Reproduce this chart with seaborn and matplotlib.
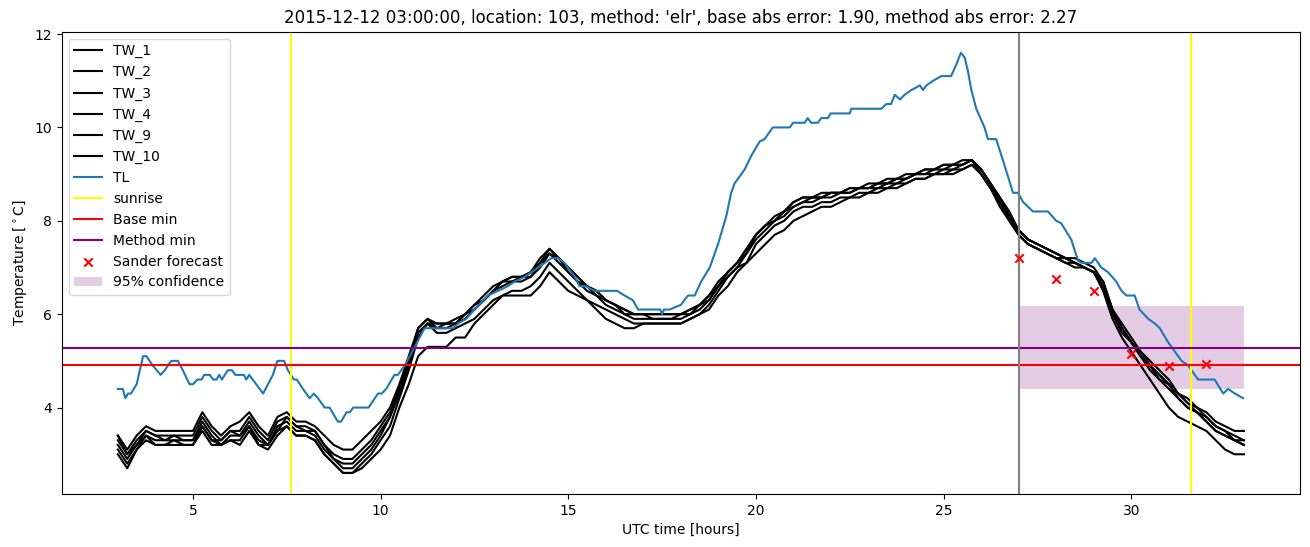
import numpy as np
import pandas as pd
import seaborn as sns
import matplotlib
matplotlib.use("Agg")
import matplotlib.pyplot as plt

# --- Air temperature (TL), irregular readings ---
tl_hours = [
    3.0, 3.13, 3.2, 3.27, 3.35, 3.5, 3.67, 3.76, 3.93, 4.14, 4.25, 4.42, 4.6, 4.73, 4.91, 5.0,
    5.12, 5.23, 5.3, 5.45, 5.54, 5.63, 5.7, 5.77, 5.93, 6.04, 6.13, 6.36, 6.42, 6.5, 6.87, 7.0,
    7.13, 7.25, 7.43, 7.53, 7.69, 7.77, 7.93, 8.11, 8.22, 8.33, 8.51, 8.64, 8.86, 8.95, 9.09,
    9.18, 9.27, 9.68, 9.93, 10.03, 10.15, 10.37, 10.46, 10.64, 10.91, 11.17, 11.93, 12.06,
    12.28, 12.5, 12.86, 13.13, 13.39, 13.57, 13.84, 14.02, 14.37, 14.55, 14.73, 14.9, 15.17,
    15.3, 15.48, 15.7, 16.3, 16.5, 16.72, 16.86, 17.45, 17.5, 17.55, 17.7, 18.0, 18.19, 18.37,
    18.54, 18.77, 18.99, 19.21, 19.34, 19.43, 19.7, 19.88, 20.1, 20.23, 20.45, 20.9, 20.99,
    21.3, 21.38, 21.47, 21.65, 21.74, 21.92, 21.99, 22.5, 22.54, 23.34, 23.47, 23.6, 23.7,
    23.84, 23.96, 24.14, 24.37, 24.45, 24.54, 24.72, 24.94, 25.2, 25.34, 25.46, 25.56, 25.65,
    25.74, 25.87, 26.09, 26.18, 26.4, 26.58, 26.85, 26.98, 27.12, 27.38, 27.78, 28.0, 28.13,
    28.4, 28.58, 28.67, 28.94, 29.03, 29.2, 29.38, 29.6, 29.74, 29.87, 30.09, 30.22, 30.45,
    30.63, 30.76, 30.98, 31.16, 31.34, 31.52, 31.78, 32.22, 32.45, 32.58, 32.76, 32.98,
]
tl_values = [
    4.4, 4.4, 4.2, 4.3, 4.3, 4.5, 5.1, 5.1, 4.9, 4.7, 4.8, 5.0, 5.0, 4.8, 4.5, 4.5,
    4.6, 4.6, 4.7, 4.7, 4.6, 4.6, 4.7, 4.6, 4.8, 4.8, 4.7, 4.7, 4.6, 4.7, 4.3, 4.5,
    4.7, 5.0, 5.0, 4.8, 4.6, 4.6, 4.4, 4.2, 4.3, 4.2, 4.0, 4.0, 3.7, 3.7, 3.9,
    3.9, 4.0, 4.0, 4.3, 4.3, 4.4, 4.7, 4.7, 4.9, 5.3, 5.7, 5.7, 5.8,
    5.9, 6.1, 6.4, 6.5, 6.6, 6.7, 6.8, 6.9, 7.1, 7.2, 7.2, 7.1, 6.8,
    6.6, 6.6, 6.5, 6.5, 6.4, 6.3, 6.1, 6.1, 6.0, 6.1, 6.1, 6.2, 6.4, 6.4,
    6.7, 7.0, 7.5, 8.1, 8.6, 8.8, 9.1, 9.4, 9.7, 9.75, 10.0, 10.0, 10.1,
    10.1, 10.2, 10.1, 10.1, 10.2, 10.2, 10.3, 10.3, 10.4, 10.4, 10.5, 10.5, 10.7,
    10.6, 10.7, 10.8, 10.9, 10.8, 10.9, 11.0, 11.1, 11.1, 11.35, 11.6, 11.5, 11.2,
    10.8, 10.4, 10.0, 9.75, 9.75, 9.3, 8.6, 8.6, 8.4, 8.2, 8.2, 8.0, 7.95,
    7.6, 7.15, 7.1, 7.1, 7.2, 7.0, 6.9, 6.7, 6.5, 6.4, 6.4, 6.1, 5.9,
    5.8, 5.7, 5.4, 5.2, 5.0, 4.9, 4.6, 4.6, 4.3, 4.4, 4.3, 4.2,
]

# --- Road sensors (TW), 15 minute readings from 03:00 to 33:00 ---
tw_hours = np.arange(3.0, 33.01, 0.25)
tw_1 = [
    3.4, 3.1, 3.4, 3.6, 3.5, 3.5, 3.5, 3.5, 3.5, 3.9, 3.6, 3.4, 3.6, 3.7, 3.9, 3.6, 3.4, 3.8, 3.9, 3.7,
    3.7, 3.6, 3.4, 3.2, 3.1, 3.1, 3.3, 3.5, 3.7, 4.0, 4.5, 5.1, 5.7, 5.9,
    5.8, 5.8, 5.9, 6.0, 6.2, 6.4, 6.6, 6.7, 6.8, 6.8, 6.9, 7.2, 7.4, 7.2, 7.0, 6.8, 6.6, 6.5, 6.3, 6.2,
    6.1, 6.0, 6.0, 6.0, 6.0, 6.0, 6.0, 6.1, 6.2, 6.4, 6.7, 6.9, 7.1, 7.4,
    7.7, 7.9, 8.0, 8.2, 8.4, 8.5, 8.5, 8.6, 8.6, 8.6, 8.7, 8.7, 8.8, 8.8, 8.9, 8.9, 9.0, 9.0, 9.1, 9.1,
    9.2, 9.2, 9.3, 9.3,
    9.1, 8.8, 8.5, 8.2, 7.8, 7.6, 7.5, 7.4, 7.3, 7.2, 7.2, 7.1, 7.0, 6.7, 6.1, 5.8, 5.5, 5.2, 5.0, 4.8,
    4.6, 4.3, 4.2, 4.0, 3.9, 3.7, 3.6, 3.5, 3.5,
]
tw_2 = [
    3.3, 3.0, 3.3, 3.5, 3.4, 3.4, 3.4, 3.4, 3.4, 3.8, 3.5, 3.3, 3.5, 3.5, 3.8, 3.5, 3.3, 3.7, 3.8, 3.6,
    3.6, 3.5, 3.2, 3.0, 2.9, 2.9, 3.1, 3.3, 3.6, 3.9, 4.4, 5.0, 5.7, 5.9,
    5.7, 5.8, 5.8, 6.0, 6.1, 6.3, 6.5, 6.7, 6.7, 6.8, 6.8, 7.1, 7.3, 7.2, 6.9, 6.7, 6.6, 6.4, 6.3, 6.2,
    6.0, 6.0, 6.0, 5.9, 5.9, 5.9, 6.0, 6.0, 6.2, 6.3, 6.6, 6.9, 7.1, 7.3,
    7.7, 7.9, 8.0, 8.2, 8.3, 8.4, 8.5, 8.5, 8.6, 8.6, 8.6, 8.7, 8.7, 8.8, 8.8, 8.9, 8.9, 9.0, 9.0, 9.1,
    9.1, 9.2, 9.2, 9.3,
    9.1, 8.8, 8.5, 8.1, 7.8, 7.6, 7.5, 7.4, 7.3, 7.2, 7.1, 7.0, 6.9, 6.6, 6.0, 5.7, 5.4, 5.2, 4.9, 4.7,
    4.5, 4.3, 4.1, 4.0, 3.8, 3.6, 3.5, 3.4, 3.3,
]
tw_3 = [
    3.2, 2.9, 3.2, 3.4, 3.3, 3.3, 3.3, 3.3, 3.3, 3.7, 3.4, 3.2, 3.4, 3.4, 3.7, 3.4, 3.2, 3.6, 3.7, 3.5,
    3.5, 3.4, 3.1, 2.9, 2.7, 2.7, 2.9, 3.1, 3.4, 3.8, 4.3, 4.9, 5.6, 5.8,
    5.7, 5.7, 5.8, 5.9, 6.1, 6.3, 6.5, 6.6, 6.7, 6.7, 6.8, 7.0, 7.3, 7.1, 6.9, 6.7, 6.5, 6.4, 6.2, 6.1,
    6.0, 5.9, 5.9, 5.9, 5.9, 5.9, 5.9, 6.0, 6.1, 6.3, 6.6, 6.8, 7.0, 7.3,
    7.6, 7.8, 8.0, 8.1, 8.3, 8.4, 8.4, 8.5, 8.5, 8.6, 8.6, 8.7, 8.7, 8.7, 8.8, 8.8, 8.9, 9.0, 9.0, 9.0,
    9.1, 9.1, 9.2, 9.3,
    9.0, 8.7, 8.4, 8.1, 7.7, 7.5, 7.4, 7.3, 7.2, 7.2, 7.1, 7.0, 6.9, 6.6, 6.0, 5.7, 5.4, 5.1, 4.9, 4.7,
    4.5, 4.3, 4.1, 3.9, 3.8, 3.6, 3.5, 3.3, 3.3,
]
tw_4 = [
    3.4, 3.0, 3.2, 3.5, 3.4, 3.3, 3.4, 3.3, 3.3, 3.6, 3.3, 3.3, 3.5, 3.4, 3.6, 3.3, 3.2, 3.5, 3.8, 3.6,
    3.5, 3.5, 3.2, 2.9, 2.8, 2.8, 3.0, 3.2, 3.5, 3.8, 4.4, 5.0, 5.6, 5.8,
    5.8, 5.8, 5.8, 6.0, 6.2, 6.3, 6.5, 6.7, 6.8, 6.8, 6.9, 7.1, 7.4, 7.2, 7.0, 6.8, 6.6, 6.5, 6.3, 6.2,
    6.1, 6.0, 6.0, 6.0, 6.0, 6.0, 6.0, 6.1, 6.2, 6.4, 6.6, 6.9, 7.1, 7.4,
    7.7, 7.9, 8.1, 8.2, 8.4, 8.5, 8.5, 8.5, 8.6, 8.6, 8.7, 8.7, 8.7, 8.8, 8.8, 8.9, 8.9, 9.0, 9.1, 9.1,
    9.2, 9.2, 9.2, 9.3,
    9.1, 8.8, 8.4, 8.1, 7.8, 7.6, 7.5, 7.4, 7.3, 7.2, 7.1, 7.0, 6.9, 6.7, 6.1, 5.7, 5.4, 5.1, 4.9, 4.6,
    4.5, 4.2, 4.0, 3.9, 3.7, 3.5, 3.4, 3.3, 3.2,
]
tw_9 = [
    3.1, 2.8, 3.1, 3.4, 3.2, 3.2, 3.2, 3.2, 3.2, 3.6, 3.3, 3.2, 3.3, 3.3, 3.6, 3.2, 3.2, 3.5, 3.6, 3.4,
    3.4, 3.3, 3.0, 2.8, 2.6, 2.6, 2.8, 3.0, 3.3, 3.6, 4.2, 4.8, 5.5, 5.8,
    5.6, 5.6, 5.7, 5.8, 5.9, 6.1, 6.3, 6.4, 6.5, 6.5, 6.6, 6.8, 7.1, 6.9, 6.7, 6.5, 6.3, 6.2, 6.1, 6.0,
    5.9, 5.8, 5.8, 5.8, 5.8, 5.8, 5.8, 5.9, 6.0, 6.1, 6.4, 6.6, 6.9, 7.1,
    7.5, 7.7, 7.9, 8.0, 8.2, 8.3, 8.3, 8.4, 8.4, 8.5, 8.5, 8.6, 8.6, 8.7, 8.7, 8.8, 8.8, 8.9, 8.9, 9.0,
    9.0, 9.1, 9.1, 9.2,
    9.0, 8.7, 8.4, 8.0, 7.7, 7.5, 7.4, 7.3, 7.2, 7.1, 7.1, 7.0, 6.9, 6.6, 6.0, 5.6, 5.4, 5.1, 4.8, 4.6,
    4.4, 4.2, 4.0, 3.9, 3.7, 3.5, 3.4, 3.3, 3.2,
]
tw_10 = [
    3.0, 2.7, 3.1, 3.3, 3.2, 3.2, 3.3, 3.2, 3.2, 3.5, 3.2, 3.2, 3.3, 3.2, 3.5, 3.2, 3.1, 3.4, 3.6, 3.4,
    3.4, 3.3, 3.0, 2.8, 2.6, 2.6, 2.7, 2.9, 3.1, 3.4, 4.0, 4.5, 5.1, 5.3,
    5.3, 5.3, 5.5, 5.5, 5.8, 6.0, 6.2, 6.4, 6.4, 6.4, 6.4, 6.6, 6.9, 6.7, 6.5, 6.4, 6.3, 6.1, 5.9, 5.8,
    5.7, 5.7, 5.8, 5.8, 5.8, 5.8, 5.8, 5.9, 6.0, 6.2, 6.5, 6.8, 7.0, 7.1,
    7.3, 7.5, 7.7, 7.8, 8.0, 8.1, 8.2, 8.3, 8.3, 8.4, 8.5, 8.5, 8.6, 8.6, 8.7, 8.7, 8.8, 8.9, 8.9, 9.0,
    9.0, 9.0, 9.1, 9.2,
    9.0, 8.7, 8.3, 8.0, 7.7, 7.5, 7.4, 7.3, 7.2, 7.1, 7.0, 7.0, 6.9, 6.5, 5.9, 5.5, 5.2, 4.9, 4.6, 4.3,
    4.0, 3.8, 3.7, 3.6, 3.5, 3.3, 3.1, 3.0, 3.0,
]
tw_series = {"TW_1": tw_1, "TW_2": tw_2, "TW_3": tw_3, "TW_4": tw_4, "TW_9": tw_9, "TW_10": tw_10}

# --- Markers / reference values ---
sunrise_hours = [7.6, 31.6]
forecast_start = 27.0
base_min = 4.91
method_min = 5.27
sander_hours = [27, 28, 29, 30, 31, 32]
sander_values = [7.2, 6.75, 6.49, 5.15, 4.9, 4.94]
conf_hours = [27.0, 33.0]
conf_low = 4.39
conf_high = 6.17

fig, ax = plt.subplots(figsize=(13.1, 5.47), dpi=100)
fig.subplots_adjust(left=0.047, right=0.9925, top=0.942, bottom=0.097)

for name, vals in tw_series.items():
    sns.lineplot(x=tw_hours, y=vals, color="black", label=name, ax=ax, legend=False)

tl = pd.DataFrame({"hour": tl_hours, "TL": tl_values})
sns.lineplot(data=tl, x="hour", y="TL", color="#1f77b4", label="TL", ax=ax, legend=False)

for i, h in enumerate(sunrise_hours):
    ax.axvline(h, color="yellow", label="sunrise" if i == 0 else None)
ax.axhline(base_min, color="red", label="Base min")
ax.axhline(method_min, color="purple", label="Method min")
ax.axvline(forecast_start, color="grey")

sns.scatterplot(x=sander_hours, y=sander_values, marker="x", color="red", s=36,
                linewidth=1.5, label="Sander forecast", ax=ax, legend=False, zorder=3)
ax.fill_between(conf_hours, conf_low, conf_high, color="purple", alpha=0.2,
                linewidth=0, label="95% confidence")

ax.set_title("2015-12-12 03:00:00, location: 103, method: 'elr', base abs error: 1.90, method abs error: 2.27")
ax.set_xlabel("UTC time [hours]")
ax.set_ylabel("Temperature [$^\\circ$C]")
ax.legend(loc="upper left")

plt.savefig("out.png")
